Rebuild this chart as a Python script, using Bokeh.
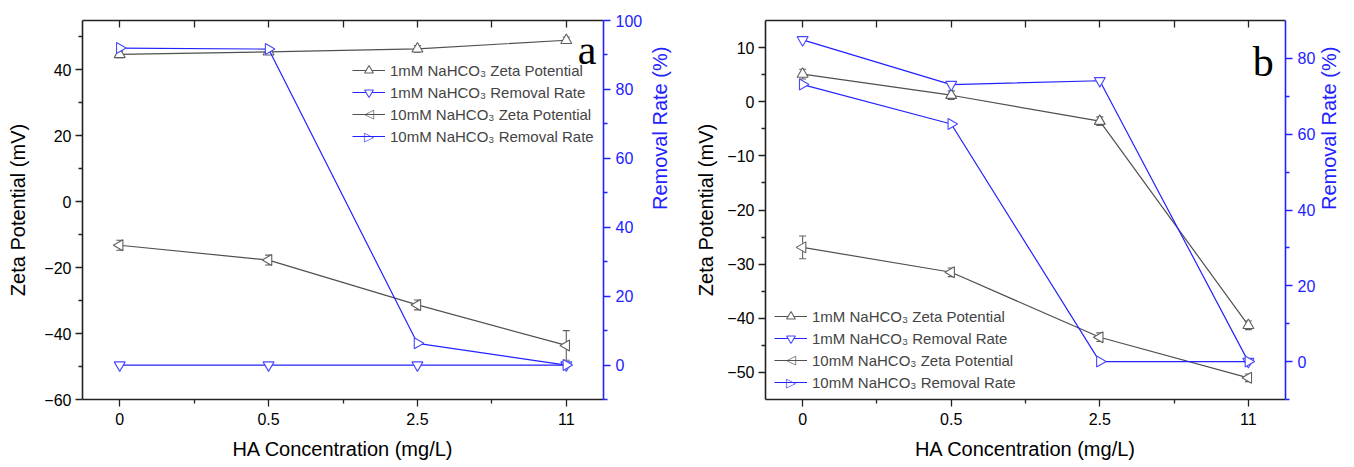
import math
from bokeh.plotting import figure
from bokeh.layouts import row
from bokeh.models import (Range1d, LinearAxis, FixedTicker, ColumnDataSource, Whisker,
                          TeeHead, Legend, LegendItem, Label)
from bokeh.embed import file_html
from bokeh.resources import INLINE

# ---------------- data ----------------
x_labels = ["0", "0.5", "2.5", "11"]
x_pos = [0, 1, 2, 3]

# panel a
a_zeta_1mM = [44.7, 45.5, 46.4, 49.0]
a_zeta_1mM_err = [1.0, 0.8, 1.0, 1.0]
a_rem_1mM = [0.0, 0.0, 0.0, 0.0]
a_zeta_10mM = [-13.2, -17.7, -31.3, -43.6]
a_zeta_10mM_err = [1.5, 1.5, 1.5, 4.5]
a_rem_10mM = [92.0, 91.7, 6.3, 0.0]

# panel b
b_zeta_1mM = [5.1, 1.2, -3.6, -41.3]
b_zeta_1mM_err = [0.9, 0.8, 0.8, 0.8]
b_rem_1mM = [84.9, 73.1, 74.1, 0.0]
b_zeta_10mM = [-26.9, -31.5, -43.5, -51.0]
b_zeta_10mM_err = [2.1, 0.8, 0.8, 0.7]
b_rem_10mM = [73.1, 62.7, 0.0, 0.0]

FONT = "Liberation Sans"
GRAY = "#505050"
GRAY_M = "#606060"
BLUE = "#2222ff"
BLUE_M = "#4848ff"
H = 465
FW = 521
ITEM_H = 22.5


def make_panel(zeta1, zeta1e, rem1, zeta10, zeta10e, rem10, yl, yr, lticks, lminor,
               rticks, rminor, letter, letter_xy, legend_loc, borders, lstand, rstand):
    bl, br, bt, bb = borders
    W = bl + FW + br
    p = figure(width=W, height=H, output_backend="svg", toolbar_location=None,
               x_range=Range1d(-0.25, 3.25), y_range=Range1d(*yl),
               min_border_left=bl, min_border_right=br, min_border_top=bt,
               min_border_bottom=bb, x_axis_location=None, y_axis_location=None)
    p.grid.visible = False
    p.outline_line_color = None
    p.background_fill_color = "white"
    p.extra_y_ranges = {"rr": Range1d(*yr)}

    # axes
    xb = LinearAxis(ticker=FixedTicker(ticks=x_pos, minor_ticks=[0.5, 1.5, 2.5]))
    xb.major_label_overrides = {i: s for i, s in zip(x_pos, x_labels)}
    xb.axis_label = "HA Concentration (mg/L)"
    xt = LinearAxis(ticker=FixedTicker(ticks=x_pos, minor_ticks=[0.5, 1.5, 2.5]))
    xt.major_label_overrides = {i: "" for i in x_pos}
    xt.major_tick_in = 7
    xt.major_tick_out = 0
    xt.minor_tick_in = 7
    xt.minor_tick_out = 0
    yleft = LinearAxis(ticker=FixedTicker(ticks=lticks, minor_ticks=lminor))
    yleft.axis_label = "Zeta Potential (mV)"
    yright = LinearAxis(y_range_name="rr", ticker=FixedTicker(ticks=rticks, minor_ticks=rminor))
    yright.axis_label = "Removal Rate (%)"
    yright.axis_label_orientation = math.pi / 2

    for ax in (xb, xt, yleft, yright):
        ax.axis_line_width = 1.6
        ax.major_tick_line_width = 1.3
        ax.minor_tick_line_width = 1.3
        ax.major_label_text_font = FONT
        ax.major_label_text_font_size = "16px"
        ax.axis_label_text_font = FONT
        ax.axis_label_text_font_style = "normal"
        ax.axis_label_text_font_size = "20px"
    for ax in (xb, yleft, yright):
        ax.major_tick_out = 7
        ax.major_tick_in = 0
        ax.minor_tick_out = 4
        ax.minor_tick_in = 0
    xb.major_label_standoff = 6
    xb.axis_label_standoff = 10
    yleft.major_label_standoff = 4
    yleft.axis_label_standoff = lstand
    yright.major_label_standoff = 5
    yright.axis_label_standoff = rstand
    for ax in (xb, xt, yleft):
        ax.axis_line_color = "#222222"
        ax.major_tick_line_color = "#222222"
        ax.minor_tick_line_color = "#222222"
        ax.major_label_text_color = "black"
        ax.axis_label_text_color = "black"
    yright.axis_line_color = BLUE
    yright.major_tick_line_color = BLUE
    yright.minor_tick_line_color = BLUE
    yright.major_label_text_color = BLUE
    yright.axis_label_text_color = BLUE

    p.add_layout(xb, "below")
    p.add_layout(xt, "above")
    p.add_layout(yleft, "left")
    p.add_layout(yright, "right")

    # error bars
    for vals, errs in ((zeta1, zeta1e), (zeta10, zeta10e)):
        src = ColumnDataSource(dict(x=x_pos, lo=[v - e for v, e in zip(vals, errs)],
                                    hi=[v + e for v, e in zip(vals, errs)]))
        w = Whisker(base="x", lower="lo", upper="hi", source=src, dimension="height",
                    line_color=GRAY_M, line_width=1.1,
                    upper_head=TeeHead(size=7, line_color=GRAY_M, line_width=1.1),
                    lower_head=TeeHead(size=7, line_color=GRAY_M, line_width=1.1))
        p.add_layout(w)

    items = []
    series = [
        ("1mM NaHCO\u2083 Zeta Potential", zeta1, GRAY, GRAY_M, "triangle", 0.0, "default", None),
        ("1mM NaHCO\u2083 Removal Rate", rem1, BLUE, BLUE_M, "inverted_triangle", 0.0, "rr", None),
        ("10mM NaHCO\u2083 Zeta Potential", zeta10, GRAY, GRAY_M, "triangle", math.pi / 2, "default", "\u25C1"),
        ("10mM NaHCO\u2083 Removal Rate", rem10, BLUE, BLUE_M, "triangle", -math.pi / 2, "rr", "\u25B7"),
    ]
    for k, (name, vals, lc, mc, mk, ang, rng, sym) in enumerate(series):
        src = ColumnDataSource(dict(x=x_pos, y=vals))
        l = p.line("x", "y", source=src, line_color=lc, line_width=1.2, y_range_name=rng)
        s = p.scatter("x", "y", source=src, marker=mk, angle=ang, size=11,
                      line_color=mc, line_width=1.1, fill_color="white", y_range_name=rng)
        if sym is None:
            items.append(LegendItem(label=name, renderers=[l, s]))
        else:
            items.append(LegendItem(label=name, renderers=[l]))
            # legend symbol for the rotated marker (legends ignore marker angle)
            lx = legend_loc[0] + 33 / 2
            ly = legend_loc[1] + 4 * ITEM_H - ITEM_H / 2 - k * ITEM_H
            p.add_layout(Label(x=lx, y=ly, x_units="screen", y_units="screen", text=sym,
                               text_font="DejaVu Sans", text_font_size="13px",
                               text_align="center", text_baseline="middle",
                               text_color=mc, background_fill_color="white",
                               padding=0))

    leg = Legend(items=items, location=legend_loc, label_text_font=FONT,
                 label_text_font_size="15px", glyph_width=33, glyph_height=int(ITEM_H),
                 label_height=int(ITEM_H), spacing=0, padding=0, margin=0, label_standoff=5,
                 background_fill_alpha=0, border_line_alpha=0)
    p.add_layout(leg, "center")

    lab = Label(x=letter_xy[0], y=letter_xy[1], text=letter, text_font="Liberation Serif",
                text_font_size="42px", text_align="center", text_baseline="alphabetic",
                text_color="black")
    p.add_layout(lab)
    return p


pa = make_panel(a_zeta_1mM, a_zeta_1mM_err, a_rem_1mM, a_zeta_10mM, a_zeta_10mM_err,
                a_rem_10mM, (-60, 55), (-10, 100),
                [-60, -40, -20, 0, 20, 40], [-50, -30, -10, 10, 30, 50],
                [0, 20, 40, 60, 80, 100], [-10, 10, 30, 50, 70, 90],
                "a", (3.14, 46.0), (270, 252), (82, 85, 20, H - 20 - 383), 12, 15)
pb = make_panel(b_zeta_1mM, b_zeta_1mM_err, b_rem_1mM, b_zeta_10mM, b_zeta_10mM_err,
                b_rem_10mM, (-55, 15), (-10, 90),
                [-50, -40, -30, -20, -10, 0, 10], [-45, -35, -25, -15, -5, 5],
                [0, 20, 40, 60, 80], [-10, 10, 30, 50, 70],
                "b", (3.1, 7.4), (9, 6), (77, 68, 15, H - 15 - 384), 7, 11)

layout = row(pa, pb)
open("out.html", "w").write(file_html(layout, INLINE))
